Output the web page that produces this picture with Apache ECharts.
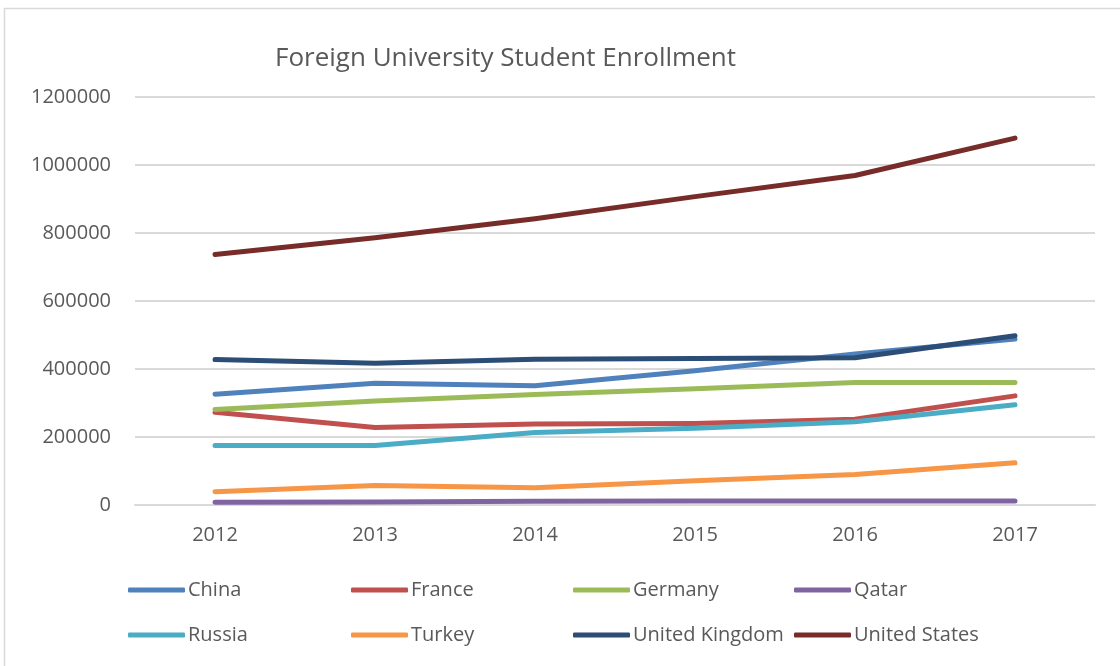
<!DOCTYPE html>
<html>
<head>
<meta charset="utf-8">
<script src="https://cdn.jsdelivr.net/npm/echarts@6/dist/echarts.min.js"></script>
<style>
  html, body { margin: 0; padding: 0; background: #fff; }
  #chart { width: 1120px; height: 666px; }
</style>
</head>
<body>
<div id="chart"></div>
<script>
// years on the x axis
const years = ['2012', '2013', '2014', '2015', '2016', '2017'];

// enrollment per country
const china = [326000, 358000, 351000, 395000, 444000, 488000];
const france = [273000, 228000, 238000, 240000, 252000, 321000];
const germany = [281000, 306000, 325000, 342000, 360000, 360000];
const qatar = [8000, 9000, 11000, 12000, 12000, 12000];
const russia = [175000, 175000, 213000, 226000, 245000, 295000];
const turkey = [39000, 57000, 51000, 71000, 90000, 124000];
const unitedKingdom = [428000, 417000, 429000, 431000, 433000, 498000];
const unitedStates = [737000, 786000, 842000, 907000, 969000, 1079000];

const names = ['China', 'France', 'Germany', 'Qatar', 'Russia', 'Turkey', 'United Kingdom', 'United States'];
const values = [china, france, germany, qatar, russia, turkey, unitedKingdom, unitedStates];
const colors = ['#4f81bd', '#c0504d', '#9bbb59', '#8064a2', '#4bacc6', '#f79646', '#2c4d75', '#772c2a'];

const font = '"Open Sans", sans-serif';
const grey = '#595959';

const chart = echarts.init(document.getElementById('chart'));

// one legend per entry so the columns line up like the original
const legendLeft = [128, 351, 573, 794];
const legendTop = [580, 625];
const legends = names.map(function (n, i) {
  return {
    data: [n],
    left: legendLeft[i % 4],
    top: legendTop[Math.floor(i / 4)],
    icon: 'roundRect',
    itemWidth: 57,
    itemHeight: 5,
    padding: 0,
    textStyle: { color: grey, fontSize: 20, fontFamily: font, padding: [0, 0, 0, -2] }
  };
});

const option = {
  animation: false,
  color: colors,
  title: {
    text: 'Foreign University Student Enrollment',
    left: 275,
    top: 46,
    padding: 0,
    textStyle: { color: grey, fontSize: 26, fontWeight: 'normal', fontFamily: font }
  },
  graphic: [{
    type: 'rect',
    shape: { x: 4.5, y: 8.5, width: 1200, height: 700 },
    style: { fill: 'none', stroke: '#d9d9d9', lineWidth: 1.5 },
    silent: true
  }],
  legend: legends,
  grid: {
    left: 135,
    right: 25,
    top: 97,
    bottom: 161
  },
  xAxis: {
    type: 'category',
    data: years,
    boundaryGap: true,
    axisLine: { show: true, lineStyle: { color: '#d9d9d9', width: 2 } },
    axisTick: { show: false },
    axisLabel: { color: grey, fontSize: 20, fontFamily: font, margin: 20 }
  },
  yAxis: {
    type: 'value',
    min: 0,
    max: 1200000,
    interval: 200000,
    axisLine: { show: false },
    axisTick: { show: false },
    splitLine: { lineStyle: { color: '#d9d9d9', width: 2 } },
    axisLabel: {
      color: grey, fontSize: 20, fontFamily: font, margin: 24,
      formatter: function (v) { return String(v); }
    }
  },
  series: names.map(function (n, i) {
    return {
      name: n,
      type: 'line',
      data: values[i],
      symbol: 'none',
      lineStyle: { width: 5, cap: 'round', join: 'round', color: colors[i] },
      itemStyle: { color: colors[i] }
    };
  })
};

chart.setOption(option);
</script>
</body>
</html>
